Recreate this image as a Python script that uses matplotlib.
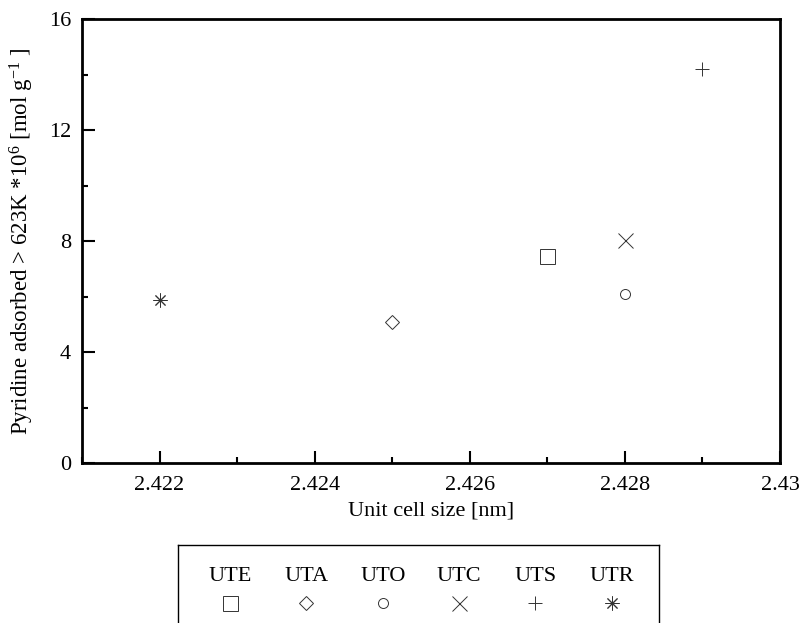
import matplotlib
matplotlib.use("Agg")
import matplotlib.pyplot as plt
from matplotlib.ticker import MultipleLocator

plt.rcParams["font.family"] = ["Liberation Serif", "DejaVu Serif"]
plt.rcParams["mathtext.fontset"] = "custom"
plt.rcParams["mathtext.rm"] = "Liberation Serif"
plt.rcParams["mathtext.it"] = "Liberation Serif"

# Données
samples = ["UTE", "UTA", "UTO", "UTC", "UTS", "UTR"]
unit_cell = [2.427, 2.425, 2.428, 2.428, 2.429, 2.422]
pyridine = [7.45, 5.08, 6.08, 8.05, 14.2, 5.88]

markers = ["s", "D", "o", "x", "+", (8, 2, 0)]
msizes = [10.8, 7.0, 7.2, 10.8, 10.5, 10.0]

fig = plt.figure(figsize=(8.04, 6.23), dpi=100)
ax = fig.add_axes([82 / 804, 160 / 623, 698 / 804, 444 / 623])

for name, x, y, m, ms in zip(samples, unit_cell, pyridine, markers, msizes):
    ax.plot(x, y, linestyle="none", marker=m, markersize=ms,
            markerfacecolor="none", markeredgecolor="#333333",
            markeredgewidth=0.7, label=name)

ax.set_xlim(2.421, 2.430)
ax.set_ylim(0, 16)
ax.xaxis.set_major_locator(MultipleLocator(0.002))
ax.xaxis.set_minor_locator(MultipleLocator(0.001))
ax.yaxis.set_major_locator(MultipleLocator(4))
ax.yaxis.set_minor_locator(MultipleLocator(2))
ax.set_xticks([2.422, 2.424, 2.426, 2.428, 2.430])
ax.set_xticklabels(["2.422", "2.424", "2.426", "2.428", "2.43"])

ax.tick_params(which="both", direction="in", top=False, right=False,
               labelsize=16, width=1.5)
ax.tick_params(which="major", length=9)
ax.tick_params(which="minor", length=4.5)
ax.tick_params(axis="x", pad=9)
ax.tick_params(axis="y", pad=8)
for s in ax.spines.values():
    s.set_linewidth(2.0)

ax.set_xlabel("Unit cell size [nm]", fontsize=16, labelpad=5)
ax.set_ylabel(r"Pyridine adsorbed > 623K *10$^{6}$ [mol g$^{-1}$ ]",
              fontsize=16.5, labelpad=9)

# Légende : étiquettes au-dessus des symboles, dans un cadre
lax = fig.add_axes([178 / 804, 0, 481 / 804, 78 / 623])
lax.set_xlim(-0.68, 5.617)
lax.set_ylim(0, 1)
for i, (name, m, ms) in enumerate(zip(samples, markers, msizes)):
    lax.text(i, 0.59, name, ha="center", va="center", fontsize=16)
    lax.plot(i, 0.26, linestyle="none", marker=m, markersize=ms,
             markerfacecolor="none", markeredgecolor="#333333",
             markeredgewidth=0.7)
lax.set_xticks([])
lax.set_yticks([])
lax.spines["bottom"].set_visible(False)
for s in ["left", "right", "top"]:
    lax.spines[s].set_linewidth(1.0)

fig.savefig("out.png", dpi=100)
